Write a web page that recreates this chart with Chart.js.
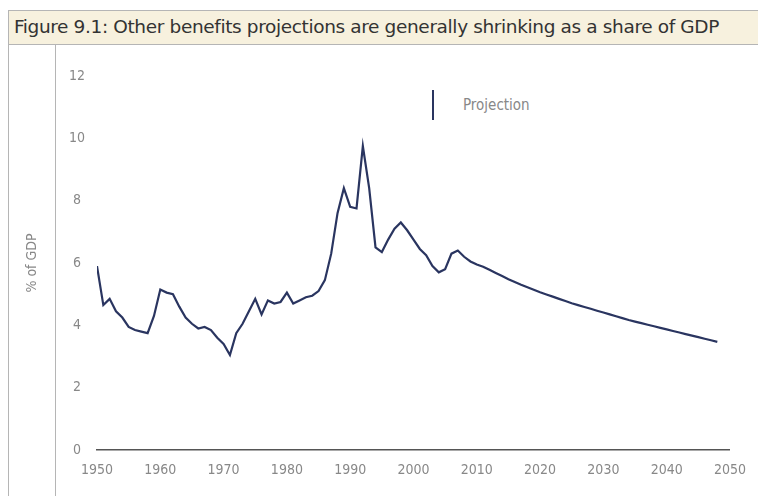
<!DOCTYPE html>
<html>
<head>
<meta charset="utf-8">
<script src="https://cdn.jsdelivr.net/npm/chart.js@4"></script>
<style>
  html, body { margin: 0; padding: 0; background: #fff; }
  #wrap { position: relative; width: 758px; height: 496px; overflow: hidden; }
  #titlebar {
    position: absolute; left: 8px; top: 10px; width: 760px; height: 35px;
    background: #f7f1de; border-top: 1px solid #b5b5b5; border-bottom: 1px solid #b5b5b5;
    border-left: 1px solid #b5b5b5; box-sizing: border-box;
  }
  #titlebar span {
    position: absolute; left: 5px; top: 6px; white-space: nowrap; transform-origin: 0 50%;
    font: 17px "DejaVu Sans Condensed", "DejaVu Sans", sans-serif; color: #333; letter-spacing: -0.3px;
  }
  .vline { position: absolute; top: 45px; bottom: 0; width: 1px; background: #b5b5b5; }
  #legend {
    position: absolute; left: 432px; top: 90px; height: 30px;
    border-left: 2px solid #2a3560;
  }
  #legend span {
    position: absolute; left: 29px; top: 6px; white-space: nowrap;
    font: 15px "DejaVu Sans Condensed", "DejaVu Sans", sans-serif; color: #888;
  }
  canvas { position: absolute; left: 0; top: 0; }
</style>
</head>
<body>
<div id="wrap">
  <div id="titlebar"><span id="title">Figure 9.1: Other benefits projections are generally shrinking as a share of GDP</span></div>
  <div class="vline" style="left:8px"></div>
  <div class="vline" style="left:55px"></div>
  <div id="legend"><span>Projection</span></div>
  <canvas id="chart" width="758" height="496"></canvas>
</div>
<script>
const years = [];
for (let y = 1950; y <= 2048; y++) years.push(y);

// % of GDP, outturn to ~2008 then projection
const share = [
  5.9, 4.65, 4.85, 4.45, 4.25, 3.95, 3.85, 3.8, 3.75, 4.3,
  5.15, 5.05, 5.0, 4.6, 4.25, 4.05, 3.9, 3.95, 3.85, 3.6,
  3.4, 3.05, 3.75, 4.05, 4.45, 4.85, 4.35, 4.8, 4.7, 4.75,
  5.05, 4.7, 4.8, 4.9, 4.95, 5.1, 5.45, 6.3, 7.6, 8.4,
  7.8, 7.75, 9.75, 8.4, 6.5, 6.35, 6.75, 7.1, 7.3, 7.05,
  6.75, 6.45, 6.25, 5.9, 5.7, 5.8, 6.3, 6.4, 6.2, 6.05,
  5.95, 5.88, 5.78, 5.68, 5.58, 5.48, 5.39, 5.3, 5.22, 5.14,
  5.06, 4.99, 4.92, 4.85, 4.78, 4.71, 4.65, 4.59, 4.53, 4.47,
  4.41, 4.35, 4.29, 4.23, 4.17, 4.12, 4.07, 4.02, 3.97, 3.92,
  3.87, 3.82, 3.77, 3.72, 3.67, 3.62, 3.57, 3.52, 3.47
];

const xTicks = [1950, 1960, 1970, 1980, 1990, 2000, 2010, 2020, 2030, 2040, 2050];
const yTicks = [0, 2, 4, 6, 8, 10, 12];

// stretch the title to the reference width
const t = document.getElementById('title');
t.style.transform = 'scaleX(' + (705 / t.getBoundingClientRect().width) + ')';

const tickFont = { family: '"DejaVu Sans Condensed", "DejaVu Sans", sans-serif', size: 14 };

new Chart(document.getElementById('chart'), {
  type: 'line',
  data: {
    datasets: [{
      label: 'Other benefits',
      data: years.map((y, i) => ({ x: y, y: share[i] })),
      borderColor: '#2a3560',
      borderWidth: 2.2,
      pointRadius: 0,
      tension: 0
    }]
  },
  options: {
    responsive: false,
    animation: false,
    layout: { padding: { left: 24, top: 76, right: 27, bottom: 16 } },
    plugins: { legend: { display: false }, tooltip: { enabled: false } },
    scales: {
      x: {
        type: 'linear',
        min: 1950,
        max: 2050,
        afterFit: s => { s.height = 30; },
        afterBuildTicks: s => { s.ticks = xTicks.map(v => ({ value: v })); },
        grid: { display: false, drawTicks: false },
        border: { display: true, color: '#555', width: 1.5 },
        ticks: { color: '#888', font: tickFont, padding: 12, maxRotation: 0, autoSkip: false,
                 callback: v => String(v) }
      },
      y: {
        min: 0,
        max: 12,
        afterFit: s => { s.width = 73; },
        afterBuildTicks: s => { s.ticks = yTicks.map(v => ({ value: v })); },
        grid: { display: false, drawTicks: false },
        border: { display: false },
        ticks: { color: '#888', font: tickFont, padding: 12, crossAlign: 'center' },
        title: { display: true, text: '% of GDP', color: '#888', font: tickFont, padding: 0 }
      }
    }
  }
});
</script>
</body>
</html>
